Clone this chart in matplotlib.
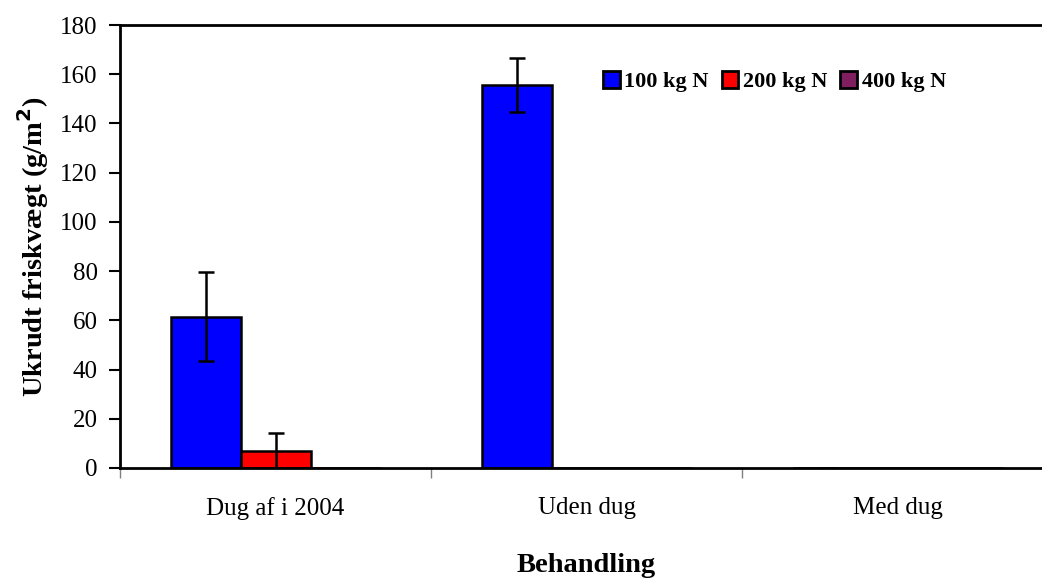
import matplotlib.pyplot as plt
import numpy as np

plt.rcParams['font.family'] = ['Liberation Serif', 'DejaVu Serif']

# Data
categories = ['Dug af i 2004', 'Uden dug', 'Med dug']
series = ['100 kg N', '200 kg N', '400 kg N']
values_100 = [61.5, 155.7, 0.0]
values_200 = [7.0, 0.0, 0.0]
values_400 = [0.0, 0.0, 0.0]
err_100 = [18.0, 11.0, 0.0]
err_200 = [7.3, np.nan, np.nan]
colors = ['#0000ff', '#ff0000', '#7f1f5f']

fig = plt.figure(figsize=(10.42, 5.78), dpi=100)
ax = fig.add_axes([120 / 1042, 1 - 468 / 578, 933 / 1042, 443 / 578])

x = np.arange(len(categories))
w = 70 / 311
offsets = [-w, 0, w]
all_vals = [values_100, values_200, values_400]
all_errs = [err_100, err_200, None]

for vals, errs, off, col, lab in zip(all_vals, all_errs, offsets, colors, series):
    ax.bar(x + off, vals, width=w, color=col, edgecolor='black', linewidth=1.8,
           label=lab, zorder=2)
    if errs is not None:
        ax.errorbar(x + off, vals, yerr=errs, fmt='none', ecolor='black',
                    elinewidth=1.8, capsize=6, capthick=1.8, zorder=3)

ax.set_xlim(-0.5, 2.5)
ax.set_ylim(0, 180)
ax.set_yticks(range(0, 181, 20))
ax.set_xticks(x)
ax.set_xticklabels(categories, fontsize=18)
ax.tick_params(axis='x', length=0, pad=21)
ax.set_xticks([-0.5, 0.5, 1.5], minor=True)
ax.tick_params(axis='x', which='minor', length=7, width=1, color='gray', direction='out')
ax.tick_params(axis='y', labelsize=18, length=8, width=1.5, direction='out', pad=8)

for s in ['left', 'top', 'bottom']:
    ax.spines[s].set_linewidth(2)
ax.spines['right'].set_visible(False)

ax.set_ylabel('Ukrudt friskvægt (g/m$^\\mathbf{2}$)', fontsize=20.5, fontweight='bold', labelpad=7)
ax.set_xlabel('Behandling', fontsize=20.5, fontweight='bold', labelpad=24)

leg = ax.legend(loc='center left', bbox_to_anchor=(0.508, 0.872), ncol=3, frameon=False,
                prop={'weight': 'bold', 'size': 16}, handlelength=0.75, handleheight=0.75,
                handletextpad=0.2, columnspacing=0.6, borderaxespad=0)
for h in leg.legend_handles:
    h.set_linewidth(2)

fig.savefig('out.png', dpi=100)
